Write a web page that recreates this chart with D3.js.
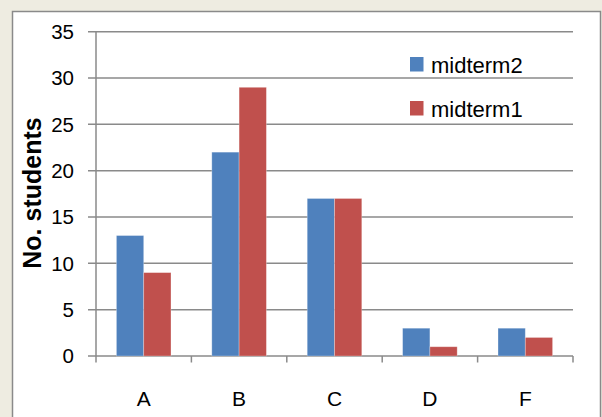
<!DOCTYPE html>
<html>
<head>
<meta charset="utf-8">
<script src="https://cdn.jsdelivr.net/npm/d3@7"></script>
<style>
  html, body { margin: 0; padding: 0; background: #EEECE1; }
  svg { display: block; }
</style>
</head>
<body>
<svg id="chart" width="602" height="417"></svg>
<script>
const categories = ["A", "B", "C", "D", "F"];
const seriesNames = ["midterm2", "midterm1"];
const midterm2 = [13, 22, 17, 3, 3];
const midterm1 = [9, 29, 17, 1, 2];
const yTicks = [0, 5, 10, 15, 20, 25, 30, 35];
const colors = ["#4F81BD", "#C0504D"];
const yTitle = "No. students";

const seriesValues = [midterm2, midterm1];

const svg = d3.select("#chart");
const font = "'Liberation Sans', Arial, sans-serif";

// panel
svg.append("rect").attr("x", 0).attr("y", 0).attr("width", 602).attr("height", 417).attr("fill", "#EEECE1");
svg.append("rect").attr("x", 12.5).attr("y", 11.5).attr("width", 588).attr("height", 420)
  .attr("fill", "#fff").attr("stroke", "#8a8a8a").attr("stroke-width", 1.5);

const pLeft = 96, pRight = 573, pTop = 31.7, pBottom = 356;

const x0 = d3.scaleBand().domain(categories).range([pLeft, pRight]).paddingInner(0).paddingOuter(0);
const bw = x0.bandwidth();
const gap = bw * 0.214;
const x1 = d3.scaleBand().domain(seriesNames).range([gap, bw - gap]).padding(0);
const y = d3.scaleLinear().domain([0, 35]).range([pBottom, pTop]);

// gridlines
svg.append("g").selectAll("line").data(yTicks).join("line")
  .attr("x1", pLeft - 8).attr("x2", pRight)
  .attr("y1", d => y(d)).attr("y2", d => y(d))
  .attr("stroke", "#8a8a8a").attr("stroke-width", 1.5);

// y axis line
svg.append("line").attr("x1", pLeft).attr("x2", pLeft).attr("y1", pTop).attr("y2", pBottom)
  .attr("stroke", "#8a8a8a").attr("stroke-width", 1.5);

// x axis ticks
const bounds = categories.map(c => x0(c)).concat([pRight]);
svg.append("g").selectAll("line").data(bounds).join("line")
  .attr("x1", d => d).attr("x2", d => d).attr("y1", pBottom).attr("y2", pBottom + 6.5)
  .attr("stroke", "#8a8a8a").attr("stroke-width", 1.5);

// bars
const rows = [];
categories.forEach((c, i) => seriesNames.forEach((s, j) => rows.push({c, s, j, v: seriesValues[j][i]})));
svg.append("g").selectAll("rect").data(rows).join("rect")
  .attr("x", d => x0(d.c) + x1(d.s))
  .attr("width", x1.bandwidth())
  .attr("y", d => y(d.v))
  .attr("height", d => y(0) - y(d.v))
  .attr("fill", d => colors[d.j])
  .attr("stroke", "rgba(255,255,255,0.35)").attr("stroke-width", 0.8);

// y tick labels
svg.append("g").selectAll("text").data(yTicks).join("text")
  .attr("x", 74).attr("y", d => y(d)).attr("dy", "0.36em")
  .attr("text-anchor", "end")
  .attr("font-family", font).attr("font-size", 20.5).attr("fill", "#000")
  .text(d => d);

// x tick labels
svg.append("g").selectAll("text").data(categories).join("text")
  .attr("x", d => x0(d) + bw / 2).attr("y", 405.5)
  .attr("text-anchor", "middle")
  .attr("font-family", font).attr("font-size", 21).attr("fill", "#000")
  .text(d => d);

// y title
svg.append("text")
  .attr("transform", `translate(41,193) rotate(-90)`)
  .attr("text-anchor", "middle")
  .attr("font-family", font).attr("font-size", 25).attr("font-weight", "bold").attr("fill", "#000")
  .text(yTitle);

// legend
const lg = svg.append("g").selectAll("g").data(seriesNames).join("g")
  .attr("transform", (d, i) => `translate(410,${57 + i * 44})`);
lg.append("rect").attr("width", 13.5).attr("height", 14.5).attr("fill", (d, i) => colors[i]);
lg.append("text").attr("x", 21).attr("y", 16)
  .attr("font-family", font).attr("font-size", 22).attr("fill", "#000")
  .text(d => d);
</script>
</body>
</html>
